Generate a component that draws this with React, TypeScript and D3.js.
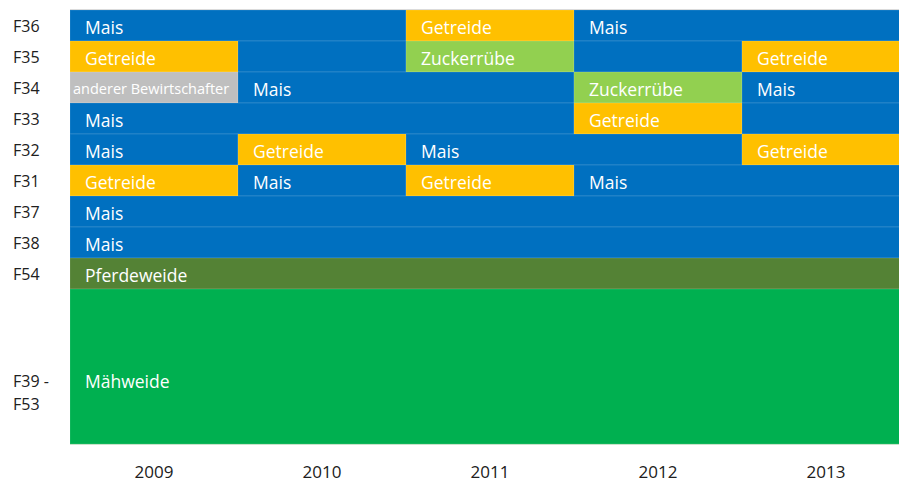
import React from 'react';
import * as d3 from 'd3';

// Fields (top to bottom) and the number of row units each takes
const fields = ['F36', 'F35', 'F34', 'F33', 'F32', 'F31', 'F37', 'F38', 'F54', 'F39 - F53'];
const fieldUnits = [1, 1, 1, 1, 1, 1, 1, 1, 1, 5];
const years = ['2009', '2010', '2011', '2012', '2013'];

// Crop colours
const cropColors: Record<string, string> = {
  Mais: '#0070C0',
  Getreide: '#FFC000',
  Zuckerrübe: '#92D050',
  anders: '#BFBFBF',
  Pferdeweide: '#548235',
  Mähweide: '#00B050',
};

// Segments per field: [field, crop, startYear, endYear(exclusive), label]
const segments: [string, string, number, number, string][] = [
  ['F36', 'Mais', 2009, 2011, 'Mais'],
  ['F36', 'Getreide', 2011, 2012, 'Getreide'],
  ['F36', 'Mais', 2012, 2014, 'Mais'],
  ['F35', 'Getreide', 2009, 2010, 'Getreide'],
  ['F35', 'Mais', 2010, 2011, ''],
  ['F35', 'Zuckerrübe', 2011, 2012, 'Zuckerrübe'],
  ['F35', 'Mais', 2012, 2013, ''],
  ['F35', 'Getreide', 2013, 2014, 'Getreide'],
  ['F34', 'anders', 2009, 2010, 'anderer Bewirtschafter'],
  ['F34', 'Mais', 2010, 2012, 'Mais'],
  ['F34', 'Zuckerrübe', 2012, 2013, 'Zuckerrübe'],
  ['F34', 'Mais', 2013, 2014, 'Mais'],
  ['F33', 'Mais', 2009, 2012, 'Mais'],
  ['F33', 'Getreide', 2012, 2013, 'Getreide'],
  ['F33', 'Mais', 2013, 2014, ''],
  ['F32', 'Mais', 2009, 2010, 'Mais'],
  ['F32', 'Getreide', 2010, 2011, 'Getreide'],
  ['F32', 'Mais', 2011, 2013, 'Mais'],
  ['F32', 'Getreide', 2013, 2014, 'Getreide'],
  ['F31', 'Getreide', 2009, 2010, 'Getreide'],
  ['F31', 'Mais', 2010, 2011, 'Mais'],
  ['F31', 'Getreide', 2011, 2012, 'Getreide'],
  ['F31', 'Mais', 2012, 2014, 'Mais'],
  ['F37', 'Mais', 2009, 2014, 'Mais'],
  ['F38', 'Mais', 2009, 2014, 'Mais'],
  ['F54', 'Pferdeweide', 2009, 2014, 'Pferdeweide'],
  ['F39 - F53', 'Mähweide', 2009, 2014, 'Mähweide'],
];

export default function App() {
  const width = 899;
  const height = 481;
  const left = 70;
  const top = 10;
  const unit = 31;

  const x = d3.scaleLinear().domain([2009, 2014]).range([left, left + 168 * 5]);

  // cumulative row offsets
  const starts: Record<string, number> = {};
  let acc = 0;
  fields.forEach((f, i) => {
    starts[f] = acc;
    acc += fieldUnits[i];
  });
  const y = d3.scaleLinear().domain([0, acc]).range([top, top + unit * acc]);
  const rowH = (f: string) => y(starts[f] + fieldUnits[fields.indexOf(f)]) - y(starts[f]);
  const bottom = y(acc);
  // the tall block's label sits below its middle in the original
  const labelY = (f: string) =>
    f === 'F39 - F53' ? y(starts[f]) + rowH(f) / 2 + 14 : y(starts[f]) + rowH(f) / 2 + 1;

  return (
    <svg
      width={width}
      height={height}
      style={{ position: 'absolute', left: 0, top: 0, fontFamily: 'Open Sans, sans-serif' }}
    >
      <line x1={left} x2={width} y1={top - 0.5} y2={top - 0.5} stroke="#D9D9D9" />
      {segments.map(([f, crop, s, e], i) => (
        <rect
          key={i}
          x={x(s)}
          y={y(starts[f])}
          width={x(e) - x(s)}
          height={rowH(f)}
          fill={cropColors[crop]}
          stroke="rgba(255,255,255,0.13)"
          strokeWidth={1}
        />
      ))}
      {segments.map(([f, crop, s, , label], i) => {
        const small = crop === 'anders';
        return (
          <text
            key={'t' + i}
            x={x(s) + (small ? 3 : 15)}
            y={labelY(f)}
            dominantBaseline="central"
            fill="#FFFFFF"
            fontSize={small ? 14.5 : 17.5}
          >
            {label}
          </text>
        );
      })}
      <line x1={left} x2={width} y1={bottom + 0.5} y2={bottom + 0.5} stroke="#C9E3C9" />
      {fields.map((f) => {
        const cy = labelY(f);
        if (f === 'F39 - F53') {
          return (
            <text key={f} fill="#202020" fontSize={16}>
              <tspan x={13} y={cy} dominantBaseline="central">F39 -</tspan>
              <tspan x={13} y={cy + 23} dominantBaseline="central">F53</tspan>
            </text>
          );
        }
        return (
          <text key={f} x={13} y={cy - 1} dominantBaseline="central" fill="#202020" fontSize={16}>
            {f}
          </text>
        );
      })}
      {years.map((yr, i) => (
        <text
          key={yr}
          x={x(2009 + i + 0.5)}
          y={471}
          textAnchor="middle"
          dominantBaseline="central"
          fill="#202020"
          fontSize={17}
        >
          {yr}
        </text>
      ))}
    </svg>
  );
}
